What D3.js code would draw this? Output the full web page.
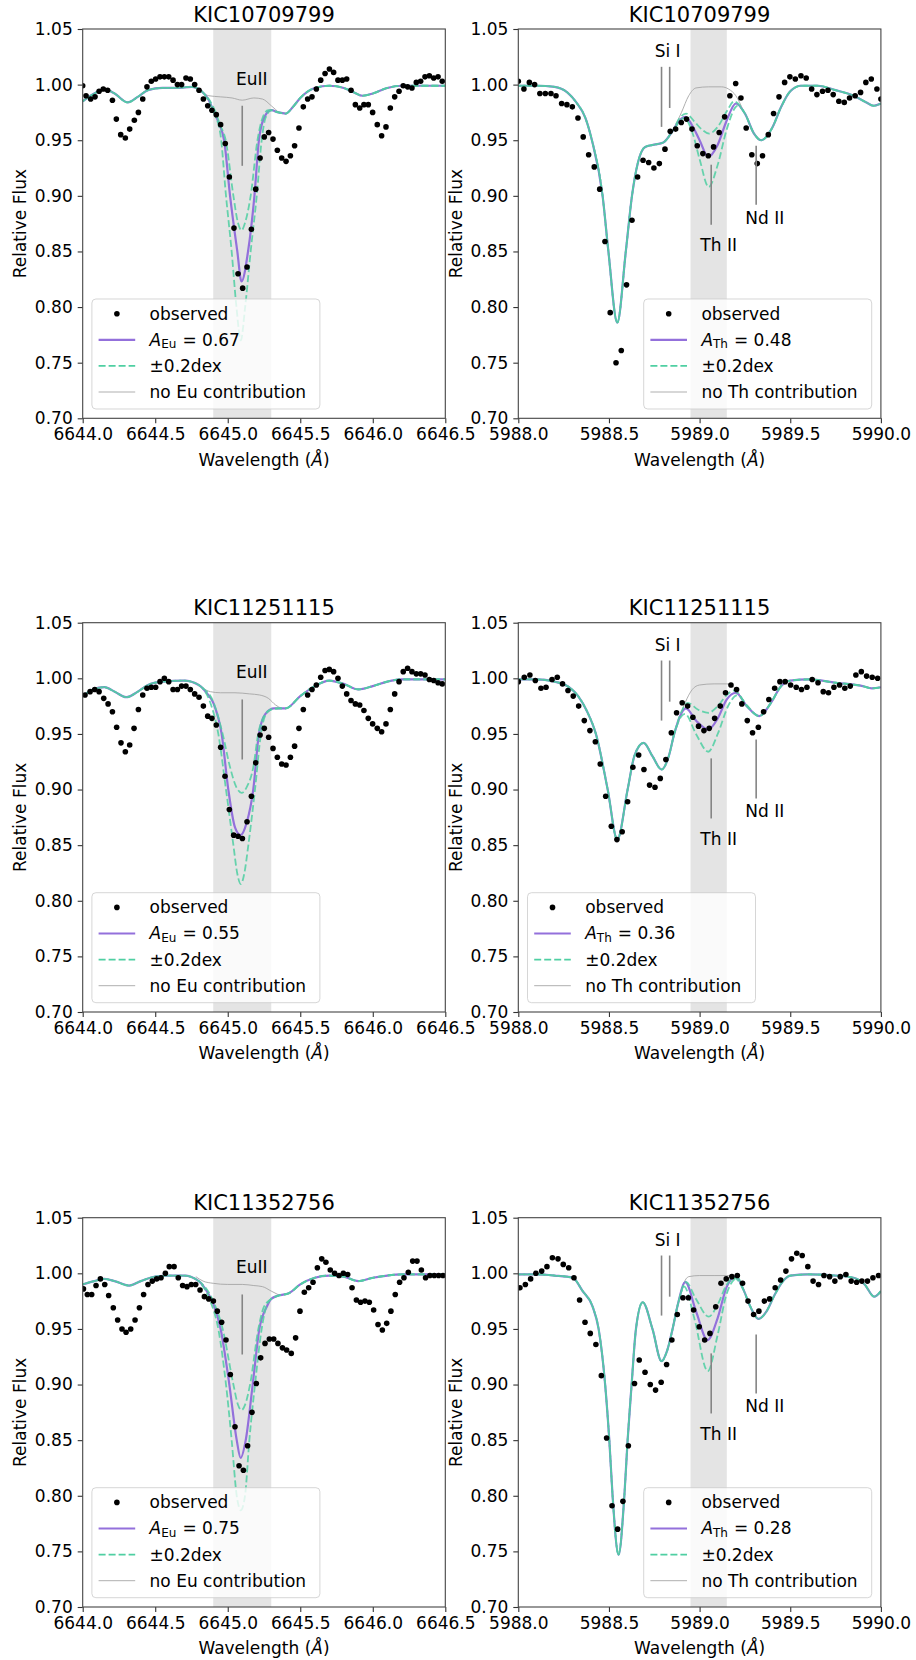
<!DOCTYPE html>
<html>
<head>
<meta charset="utf-8">
<script src="https://cdn.jsdelivr.net/npm/d3@7"></script>
<style>
  body { margin: 0; background: #fff; }
  text { font-family: "DejaVu Sans", sans-serif; fill: #000; }
</style>
</head>
<body>
<div id="chart-area"></div>
<script>
  // ---- data ----
  var starNames = ['KIC10709799', 'KIC11251115', 'KIC11352756'];
  var euAbund = [0.67, 0.55, 0.75];
  var thAbund = [0.48, 0.36, 0.28];
  var thLegendSide = ['right', 'left', 'right'];

  var euTicks = [6644.0, 6644.5, 6645.0, 6645.5, 6646.0, 6646.5];
  var thTicks = [5988.0, 5988.5, 5989.0, 5989.5, 5990.0];
  var fluxTicks = [0.70, 0.75, 0.80, 0.85, 0.90, 0.95, 1.00, 1.05];
  var euBand = [6644.9, 6645.3];
  var thBand = [5988.95, 5989.15];

  // marker lines [x, yLow, yHigh] and labels [x, y, text]
  var euMarks = [[6645.1, 0.927, 0.981]];
  var euLabels = [[6645.057, 1.0, 'EuII']];
  var thMarks = [[5988.79, 0.962, 1.016], [5988.835, 0.979, 1.016], [5989.064, 0.874, 0.928], [5989.312, 0.892, 0.945]];
  var thLabels = [[5988.752, 1.025, 'Si I'], [5989.004, 0.850, 'Th II'], [5989.252, 0.875, 'Nd II']];

  // ---- KIC10709799 ----
  var eu1Obs = [[6644.000,0.999],[6644.023,0.990],[6644.055,0.987],[6644.085,0.989],[6644.113,0.994],[6644.142,0.996],[6644.172,0.995],[6644.205,0.986],[6644.232,0.969],[6644.262,0.955],[6644.294,0.952],[6644.324,0.960],[6644.356,0.968],[6644.384,0.975],[6644.414,0.987],[6644.443,0.998],[6644.473,1.003],[6644.503,1.005],[6644.533,1.007],[6644.563,1.007],[6644.593,1.007],[6644.623,1.004],[6644.653,1.000],[6644.682,1.000],[6644.712,1.006],[6644.742,1.005],[6644.772,1.000],[6644.802,0.995],[6644.832,0.987],[6644.862,0.981],[6644.891,0.977],[6644.921,0.973],[6644.951,0.964],[6644.983,0.947],[6645.011,0.917],[6645.043,0.871],[6645.071,0.830],[6645.103,0.817],[6645.133,0.836],[6645.163,0.870],[6645.193,0.906],[6645.223,0.934],[6645.252,0.953],[6645.282,0.957],[6645.312,0.951],[6645.342,0.941],[6645.372,0.934],[6645.402,0.931],[6645.432,0.936],[6645.461,0.945],[6645.491,0.961],[6645.521,0.980],[6645.551,0.987],[6645.581,0.989],[6645.611,0.996],[6645.641,1.004],[6645.671,1.010],[6645.701,1.014],[6645.730,1.011],[6645.760,1.004],[6645.790,1.004],[6645.820,1.005],[6645.850,0.995],[6645.880,0.982],[6645.910,0.979],[6645.939,0.982],[6645.969,0.982],[6645.999,0.975],[6646.031,0.964],[6646.061,0.954],[6646.091,0.962],[6646.121,0.979],[6646.151,0.989],[6646.181,0.994],[6646.210,0.999],[6646.240,0.998],[6646.270,0.997],[6646.300,1.002],[6646.330,1.003],[6646.360,1.007],[6646.390,1.008],[6646.420,1.006],[6646.450,1.007],[6646.479,1.003]];
  var eu1Model = [[6644.00,0.985],[6644.08,0.992],[6644.15,0.996],[6644.22,0.992],[6644.31,0.984],[6644.38,0.989],[6644.45,0.995],[6644.55,0.997],[6644.65,0.997],[6644.75,0.998],[6644.82,0.994],[6644.87,0.986],[6644.90,0.977],[6644.94,0.965],[6644.975,0.950],[6645.016,0.900],[6645.066,0.850],[6645.095,0.823],[6645.14,0.850],[6645.184,0.900],[6645.215,0.950],[6645.25,0.970],[6645.30,0.977],[6645.35,0.975],[6645.40,0.974],[6645.45,0.980],[6645.50,0.988],[6645.60,0.997],[6645.70,0.999],[6645.80,0.997],[6645.87,0.993],[6645.93,0.990],[6646.00,0.992],[6646.10,0.997],[6646.20,0.999],[6646.50,0.999]];
  var eu1Hi = [[6644.82,0.994],[6644.90,0.980],[6644.95,0.963],[6644.986,0.950],[6645.039,0.900],[6645.07,0.876],[6645.095,0.869],[6645.12,0.876],[6645.158,0.900],[6645.205,0.950],[6645.24,0.970],[6645.28,0.977],[6645.35,0.975]];
  var eu1Lo = [[6644.82,0.994],[6644.90,0.976],[6644.95,0.955],[6644.988,0.900],[6645.027,0.850],[6645.06,0.800],[6645.09,0.770],[6645.12,0.800],[6645.158,0.850],[6645.20,0.900],[6645.234,0.950],[6645.26,0.970],[6645.30,0.977],[6645.35,0.975]];
  var eu1Bare = [[6644.78,0.997],[6644.82,0.993],[6644.87,0.990],[6644.95,0.989],[6645.03,0.988],[6645.10,0.986],[6645.18,0.988],[6645.24,0.987],[6645.30,0.981],[6645.36,0.974]];

  var th1Obs = [[5988.000,1.003],[5988.031,0.996],[5988.061,1.002],[5988.090,1.000],[5988.119,0.992],[5988.149,0.992],[5988.180,0.992],[5988.208,0.990],[5988.239,0.983],[5988.268,0.982],[5988.298,0.980],[5988.329,0.970],[5988.358,0.953],[5988.388,0.937],[5988.419,0.926],[5988.449,0.906],[5988.478,0.859],[5988.507,0.795],[5988.539,0.750],[5988.568,0.761],[5988.597,0.820],[5988.627,0.878],[5988.658,0.917],[5988.688,0.932],[5988.719,0.930],[5988.748,0.925],[5988.778,0.929],[5988.809,0.942],[5988.838,0.958],[5988.868,0.960],[5988.899,0.966],[5988.928,0.969],[5988.958,0.960],[5988.987,0.945],[5989.018,0.938],[5989.048,0.936],[5989.077,0.944],[5989.108,0.957],[5989.138,0.971],[5989.167,0.990],[5989.199,1.001],[5989.228,0.988],[5989.257,0.961],[5989.288,0.937],[5989.318,0.929],[5989.347,0.936],[5989.379,0.955],[5989.408,0.974],[5989.438,0.989],[5989.469,1.002],[5989.498,1.007],[5989.528,1.005],[5989.559,1.008],[5989.588,1.006],[5989.618,0.996],[5989.647,0.991],[5989.678,0.994],[5989.708,0.995],[5989.737,0.991],[5989.768,0.985],[5989.798,0.984],[5989.827,0.988],[5989.858,0.990],[5989.888,0.993],[5989.917,1.002],[5989.947,1.005],[5989.978,0.996],[5990.000,0.987]];
  var th1Model = [[5988.00,0.999],[5988.10,0.999],[5988.20,0.998],[5988.27,0.993],[5988.32,0.984],[5988.37,0.970],[5988.406,0.950],[5988.465,0.900],[5988.497,0.850],[5988.546,0.786],[5988.593,0.850],[5988.627,0.900],[5988.66,0.930],[5988.70,0.944],[5988.75,0.946],[5988.80,0.948],[5988.85,0.958],[5988.89,0.968],[5988.921,0.971],[5988.96,0.963],[5989.00,0.950],[5989.048,0.935],[5989.10,0.946],[5989.15,0.968],[5989.20,0.983],[5989.25,0.974],[5989.30,0.956],[5989.34,0.950],[5989.40,0.961],[5989.45,0.980],[5989.50,0.994],[5989.56,0.999],[5989.65,0.999],[5989.75,0.995],[5989.85,0.990],[5989.92,0.984],[5989.96,0.981],[5990.00,0.983]];
  var th1Hi = [[5988.85,0.958],[5988.89,0.970],[5988.925,0.974],[5988.97,0.967],[5989.01,0.960],[5989.053,0.956],[5989.10,0.962],[5989.15,0.976],[5989.19,0.985],[5989.25,0.974]];
  var th1Lo = [[5988.85,0.958],[5988.89,0.967],[5988.915,0.970],[5988.96,0.957],[5989.00,0.933],[5989.05,0.908],[5989.10,0.928],[5989.15,0.960],[5989.21,0.981],[5989.25,0.974]];
  var th1Bare = [[5988.86,0.961],[5988.90,0.975],[5988.94,0.990],[5988.98,0.997],[5989.05,0.998],[5989.12,0.998],[5989.16,0.996],[5989.20,0.990],[5989.24,0.977]];

  // ---- KIC11251115 ----
  var eu2Obs = [[6644.016,0.985],[6644.051,0.988],[6644.083,0.990],[6644.113,0.988],[6644.145,0.982],[6644.175,0.977],[6644.205,0.970],[6644.234,0.956],[6644.264,0.942],[6644.294,0.934],[6644.324,0.940],[6644.354,0.955],[6644.384,0.972],[6644.414,0.985],[6644.443,0.991],[6644.473,0.992],[6644.503,0.992],[6644.533,0.997],[6644.563,1.000],[6644.593,0.997],[6644.623,0.990],[6644.653,0.990],[6644.682,0.993],[6644.712,0.993],[6644.742,0.990],[6644.772,0.986],[6644.802,0.983],[6644.832,0.975],[6644.862,0.966],[6644.891,0.964],[6644.921,0.958],[6644.951,0.938],[6644.981,0.912],[6645.011,0.882],[6645.041,0.859],[6645.071,0.858],[6645.101,0.856],[6645.133,0.871],[6645.163,0.894],[6645.193,0.924],[6645.223,0.949],[6645.252,0.955],[6645.282,0.947],[6645.312,0.937],[6645.342,0.929],[6645.372,0.923],[6645.402,0.922],[6645.432,0.929],[6645.461,0.939],[6645.491,0.955],[6645.521,0.972],[6645.551,0.985],[6645.581,0.990],[6645.611,0.994],[6645.641,1.001],[6645.671,1.007],[6645.700,1.008],[6645.730,1.006],[6645.760,1.000],[6645.790,0.993],[6645.820,0.986],[6645.850,0.980],[6645.880,0.977],[6645.910,0.976],[6645.939,0.971],[6645.969,0.964],[6645.999,0.959],[6646.031,0.955],[6646.061,0.952],[6646.091,0.959],[6646.121,0.972],[6646.151,0.986],[6646.181,0.997],[6646.210,1.006],[6646.240,1.009],[6646.270,1.006],[6646.300,1.004],[6646.330,1.004],[6646.360,1.003],[6646.390,0.999],[6646.420,0.998],[6646.450,0.996],[6646.479,0.995]];
  var eu2Model = [[6644.00,0.984],[6644.07,0.990],[6644.15,0.992],[6644.22,0.988],[6644.30,0.983],[6644.38,0.988],[6644.45,0.994],[6644.55,0.997],[6644.70,0.998],[6644.80,0.994],[6644.86,0.986],[6644.90,0.978],[6644.958,0.950],[6645.004,0.900],[6645.05,0.866],[6645.089,0.859],[6645.13,0.870],[6645.176,0.900],[6645.215,0.950],[6645.26,0.968],[6645.32,0.973],[6645.40,0.973],[6645.50,0.984],[6645.60,0.993],[6645.70,0.998],[6645.80,0.995],[6645.90,0.990],[6646.00,0.993],[6646.10,0.997],[6646.20,0.999],[6646.50,0.999]];
  var eu2Hi = [[6644.82,0.992],[6644.90,0.979],[6644.965,0.950],[6645.016,0.920],[6645.06,0.902],[6645.095,0.897],[6645.13,0.902],[6645.176,0.920],[6645.21,0.950],[6645.25,0.966],[6645.30,0.972],[6645.35,0.973]];
  var eu2Lo = [[6644.82,0.992],[6644.88,0.978],[6644.935,0.950],[6644.988,0.900],[6645.039,0.850],[6645.065,0.825],[6645.09,0.815],[6645.115,0.825],[6645.142,0.850],[6645.188,0.900],[6645.229,0.950],[6645.26,0.967],[6645.30,0.972],[6645.35,0.973]];
  var eu2Bare = [[6644.78,0.996],[6644.83,0.991],[6644.88,0.988],[6644.95,0.987],[6645.05,0.987],[6645.15,0.986],[6645.22,0.985],[6645.28,0.982],[6645.33,0.976],[6645.37,0.973]];

  var th2Obs = [[5988.000,0.997],[5988.033,1.001],[5988.064,1.003],[5988.094,0.998],[5988.125,0.991],[5988.153,0.992],[5988.186,0.999],[5988.215,1.001],[5988.244,0.995],[5988.274,0.989],[5988.303,0.984],[5988.333,0.975],[5988.364,0.962],[5988.395,0.953],[5988.425,0.943],[5988.452,0.923],[5988.482,0.894],[5988.513,0.867],[5988.544,0.855],[5988.573,0.862],[5988.603,0.889],[5988.632,0.920],[5988.664,0.931],[5988.693,0.918],[5988.724,0.904],[5988.754,0.902],[5988.783,0.910],[5988.814,0.927],[5988.844,0.951],[5988.873,0.969],[5988.904,0.978],[5988.934,0.975],[5988.963,0.965],[5988.994,0.957],[5989.024,0.953],[5989.053,0.955],[5989.083,0.964],[5989.114,0.975],[5989.143,0.987],[5989.173,0.994],[5989.204,0.990],[5989.233,0.977],[5989.263,0.962],[5989.292,0.951],[5989.324,0.956],[5989.353,0.970],[5989.382,0.981],[5989.414,0.991],[5989.443,0.997],[5989.472,0.997],[5989.502,0.994],[5989.533,0.992],[5989.562,0.990],[5989.592,0.992],[5989.621,0.999],[5989.653,0.996],[5989.682,0.988],[5989.711,0.987],[5989.741,0.992],[5989.772,0.994],[5989.801,0.991],[5989.831,0.993],[5989.862,1.003],[5989.892,1.006],[5989.921,1.002],[5989.952,1.001],[5989.982,1.000]];
  var th2Model = [[5988.00,0.999],[5988.10,0.999],[5988.20,0.997],[5988.28,0.992],[5988.33,0.984],[5988.38,0.970],[5988.428,0.950],[5988.493,0.900],[5988.546,0.855],[5988.603,0.900],[5988.64,0.930],[5988.691,0.942],[5988.74,0.930],[5988.79,0.918],[5988.83,0.930],[5988.86,0.950],[5988.925,0.973],[5988.98,0.962],[5989.048,0.954],[5989.10,0.964],[5989.15,0.981],[5989.20,0.987],[5989.26,0.975],[5989.329,0.966],[5989.39,0.977],[5989.45,0.993],[5989.50,0.998],[5989.60,0.999],[5989.75,0.996],[5989.90,0.993],[5989.95,0.991],[5990.00,0.992]];
  var th2Hi = [[5988.86,0.950],[5988.90,0.970],[5988.934,0.978],[5988.99,0.972],[5989.048,0.969],[5989.10,0.975],[5989.15,0.985],[5989.19,0.989],[5989.26,0.976]];
  var th2Lo = [[5988.86,0.950],[5988.90,0.966],[5988.92,0.968],[5988.98,0.950],[5989.048,0.934],[5989.10,0.950],[5989.16,0.976],[5989.21,0.985],[5989.26,0.975]];
  var th2Bare = [[5988.88,0.960],[5988.92,0.978],[5988.96,0.990],[5989.00,0.994],[5989.08,0.995],[5989.15,0.995],[5989.19,0.992],[5989.23,0.983],[5989.26,0.975]];

  // ---- KIC11352756 ----
  var eu3Obs = [[6644.005,0.986],[6644.032,0.981],[6644.062,0.981],[6644.092,0.989],[6644.122,0.995],[6644.152,0.990],[6644.179,0.980],[6644.211,0.969],[6644.241,0.958],[6644.271,0.950],[6644.299,0.947],[6644.331,0.950],[6644.361,0.958],[6644.391,0.969],[6644.420,0.981],[6644.450,0.990],[6644.480,0.993],[6644.510,0.995],[6644.540,0.996],[6644.570,1.000],[6644.597,1.006],[6644.630,1.006],[6644.659,0.996],[6644.689,0.989],[6644.719,0.988],[6644.749,0.990],[6644.779,0.990],[6644.809,0.985],[6644.839,0.979],[6644.869,0.977],[6644.901,0.975],[6644.928,0.966],[6644.958,0.956],[6644.988,0.940],[6645.018,0.909],[6645.050,0.862],[6645.078,0.827],[6645.108,0.823],[6645.137,0.845],[6645.167,0.875],[6645.197,0.901],[6645.227,0.924],[6645.257,0.937],[6645.287,0.941],[6645.317,0.941],[6645.346,0.937],[6645.377,0.933],[6645.406,0.931],[6645.438,0.928],[6645.468,0.942],[6645.498,0.966],[6645.528,0.983],[6645.558,0.987],[6645.588,0.992],[6645.618,1.005],[6645.648,1.013],[6645.677,1.010],[6645.707,1.003],[6645.737,1.000],[6645.767,0.998],[6645.797,1.000],[6645.827,0.999],[6645.857,0.987],[6645.887,0.976],[6645.916,0.974],[6645.946,0.975],[6645.976,0.974],[6646.006,0.967],[6646.036,0.954],[6646.066,0.949],[6646.096,0.955],[6646.125,0.966],[6646.155,0.981],[6646.185,0.992],[6646.215,0.996],[6646.245,1.001],[6646.275,1.011],[6646.305,1.011],[6646.335,1.003],[6646.364,0.996],[6646.394,0.998],[6646.424,0.998],[6646.454,0.998],[6646.484,0.998]];
  var eu3Model = [[6644.00,0.990],[6644.08,0.993],[6644.15,0.995],[6644.22,0.993],[6644.32,0.989],[6644.40,0.993],[6644.50,0.997],[6644.60,0.998],[6644.70,0.998],[6644.80,0.993],[6644.86,0.983],[6644.90,0.973],[6644.951,0.950],[6645.011,0.900],[6645.062,0.850],[6645.089,0.834],[6645.124,0.850],[6645.172,0.900],[6645.218,0.950],[6645.269,0.970],[6645.30,0.977],[6645.35,0.980],[6645.42,0.982],[6645.50,0.990],[6645.60,0.996],[6645.70,0.998],[6645.80,0.997],[6645.90,0.993],[6646.00,0.996],[6646.10,0.998],[6646.20,0.999],[6646.50,0.999]];
  var eu3Hi = [[6644.82,0.991],[6644.90,0.975],[6644.965,0.950],[6645.039,0.900],[6645.07,0.882],[6645.095,0.877],[6645.12,0.882],[6645.154,0.900],[6645.211,0.950],[6645.25,0.970],[6645.30,0.977],[6645.35,0.980]];
  var eu3Lo = [[6644.82,0.990],[6644.88,0.975],[6644.935,0.950],[6644.988,0.900],[6645.027,0.850],[6645.062,0.800],[6645.09,0.787],[6645.119,0.800],[6645.149,0.850],[6645.188,0.900],[6645.234,0.950],[6645.27,0.972],[6645.30,0.977],[6645.35,0.980]];
  var eu3Bare = [[6644.78,0.997],[6644.83,0.993],[6644.90,0.991],[6645.00,0.990],[6645.10,0.990],[6645.18,0.989],[6645.24,0.988],[6645.30,0.984],[6645.36,0.980]];

  var th3Obs = [[5988.009,0.987],[5988.039,0.990],[5988.068,0.995],[5988.097,1.000],[5988.129,1.002],[5988.158,1.006],[5988.188,1.014],[5988.219,1.013],[5988.248,1.008],[5988.278,1.005],[5988.307,0.996],[5988.338,0.976],[5988.368,0.956],[5988.397,0.946],[5988.428,0.936],[5988.458,0.908],[5988.487,0.852],[5988.517,0.791],[5988.548,0.770],[5988.577,0.795],[5988.607,0.845],[5988.641,0.901],[5988.667,0.922],[5988.699,0.911],[5988.728,0.900],[5988.757,0.895],[5988.788,0.902],[5988.818,0.918],[5988.847,0.940],[5988.877,0.963],[5988.908,0.978],[5988.938,0.978],[5988.967,0.967],[5988.998,0.952],[5989.028,0.940],[5989.057,0.946],[5989.089,0.970],[5989.118,0.991],[5989.147,0.995],[5989.178,0.997],[5989.208,0.998],[5989.237,0.991],[5989.267,0.975],[5989.298,0.963],[5989.327,0.966],[5989.357,0.975],[5989.386,0.977],[5989.417,0.987],[5989.447,0.994],[5989.476,1.002],[5989.507,1.013],[5989.536,1.018],[5989.566,1.016],[5989.597,1.006],[5989.626,0.993],[5989.656,0.990],[5989.686,0.998],[5989.717,0.997],[5989.746,0.993],[5989.776,0.997],[5989.807,0.999],[5989.836,0.993],[5989.866,0.992],[5989.895,0.993],[5989.926,0.993],[5989.956,0.996],[5989.987,0.998]];
  var th3Model = [[5988.00,0.999],[5988.10,0.999],[5988.20,0.998],[5988.30,0.996],[5988.355,0.984],[5988.41,0.970],[5988.443,0.950],[5988.479,0.900],[5988.502,0.850],[5988.52,0.800],[5988.553,0.747],[5988.585,0.800],[5988.603,0.850],[5988.625,0.900],[5988.649,0.950],[5988.686,0.974],[5988.74,0.950],[5988.79,0.921],[5988.82,0.930],[5988.851,0.950],[5988.88,0.972],[5988.921,0.992],[5988.98,0.966],[5989.044,0.940],[5989.10,0.960],[5989.15,0.988],[5989.20,0.997],[5989.24,0.986],[5989.28,0.970],[5989.325,0.959],[5989.37,0.966],[5989.412,0.980],[5989.46,0.993],[5989.50,0.998],[5989.60,0.999],[5989.75,0.998],[5989.85,0.996],[5989.91,0.990],[5989.963,0.979],[5990.00,0.984]];
  var th3Hi = [[5988.88,0.972],[5988.925,0.992],[5988.98,0.977],[5989.05,0.961],[5989.10,0.972],[5989.15,0.990],[5989.19,0.996],[5989.24,0.986]];
  var th3Lo = [[5988.88,0.972],[5988.915,0.988],[5988.97,0.960],[5989.045,0.912],[5989.10,0.945],[5989.15,0.982],[5989.21,0.996],[5989.24,0.986]];
  var th3Bare = [[5988.88,0.972],[5988.91,0.990],[5988.94,0.997],[5989.00,0.998],[5989.08,0.998],[5989.15,0.998],[5989.20,0.997],[5989.24,0.986]];

  // ---- layout ----
  var W = 916, H = 1660;
  var colLeft = [82.7, 518.3];
  var rowTop = [29, 622.7, 1217.7];
  var pw = 362.6, ph = 389.3;
  var purple = '#9370db', aqua = '#4fcfa2';

  var panels = [
    {row: 0, col: 0, el: 'Eu', ab: euAbund[0], obs: eu1Obs, model: eu1Model, hi: eu1Hi, lo: eu1Lo, bare: eu1Bare, side: 'left'},
    {row: 0, col: 1, el: 'Th', ab: thAbund[0], obs: th1Obs, model: th1Model, hi: th1Hi, lo: th1Lo, bare: th1Bare, side: thLegendSide[0]},
    {row: 1, col: 0, el: 'Eu', ab: euAbund[1], obs: eu2Obs, model: eu2Model, hi: eu2Hi, lo: eu2Lo, bare: eu2Bare, side: 'left'},
    {row: 1, col: 1, el: 'Th', ab: thAbund[1], obs: th2Obs, model: th2Model, hi: th2Hi, lo: th2Lo, bare: th2Bare, side: thLegendSide[1]},
    {row: 2, col: 0, el: 'Eu', ab: euAbund[2], obs: eu3Obs, model: eu3Model, hi: eu3Hi, lo: eu3Lo, bare: eu3Bare, side: 'left'},
    {row: 2, col: 1, el: 'Th', ab: thAbund[2], obs: th3Obs, model: th3Model, hi: th3Hi, lo: th3Lo, bare: th3Bare, side: thLegendSide[2]}
  ];

  var svg = d3.select('#chart-area').append('svg')
      .attr('width', W).attr('height', H)
      .style('display', 'block');

  // the +-0.2 dex curves follow the model outside the line window
  function splice(model, win) {
    var a = win[0][0], b = win[win.length - 1][0];
    return model.filter(function(d) { return d[0] < a; })
      .concat(win, model.filter(function(d) { return d[0] > b; }));
  }

  function drawPanel(p, idx) {
    var x0 = colLeft[p.col], y0 = rowTop[p.row];
    var isEu = p.el === 'Eu';
    var ticks = isEu ? euTicks : thTicks;
    var band = isEu ? euBand : thBand;
    var x = d3.scaleLinear().domain([ticks[0], ticks[ticks.length - 1]]).range([x0, x0 + pw]);
    var y = d3.scaleLinear().domain([0.70, 1.05]).range([y0 + ph, y0]);

    var g = svg.append('g');
    g.append('clipPath').attr('id', 'clip' + idx)
      .append('rect').attr('x', x0).attr('y', y0).attr('width', pw).attr('height', ph);
    var plot = g.append('g').attr('clip-path', 'url(#clip' + idx + ')');

    // shaded line window
    plot.append('rect')
      .attr('x', x(band[0])).attr('y', y0)
      .attr('width', x(band[1]) - x(band[0])).attr('height', ph)
      .attr('fill', '#e4e4e4');

    var line = d3.line()
      .x(function(d) { return x(d[0]); })
      .y(function(d) { return y(d[1]); })
      .curve(d3.curveMonotoneX);

    plot.append('path').attr('d', line(p.bare))
      .attr('fill', 'none').attr('stroke', '#a6a6a6').attr('stroke-width', 0.9);
    plot.append('path').attr('d', line(p.model))
      .attr('fill', 'none').attr('stroke', purple).attr('stroke-width', 2.2);
    plot.append('path').attr('d', line(splice(p.model, p.hi)))
      .attr('fill', 'none').attr('stroke', aqua).attr('stroke-width', 1.8)
      .attr('stroke-opacity', 0.85).attr('stroke-dasharray', '7,3');
    plot.append('path').attr('d', line(splice(p.model, p.lo)))
      .attr('fill', 'none').attr('stroke', aqua).attr('stroke-width', 1.8)
      .attr('stroke-opacity', 0.85).attr('stroke-dasharray', '7,3').attr('stroke-dashoffset', 5);

    plot.selectAll('circle.obs').data(p.obs).enter().append('circle')
      .attr('class', 'obs')
      .attr('cx', function(d) { return x(d[0]); })
      .attr('cy', function(d) { return y(d[1]); })
      .attr('r', 2.8).attr('fill', '#000');

    // line identifications
    var marks = isEu ? euMarks : thMarks;
    var labels = isEu ? euLabels : thLabels;
    marks.forEach(function(m) {
      g.append('line')
        .attr('x1', x(m[0])).attr('x2', x(m[0]))
        .attr('y1', y(m[1])).attr('y2', y(m[2]))
        .attr('stroke', '#858585').attr('stroke-width', 1.6);
    });
    labels.forEach(function(l) {
      g.append('text').attr('x', x(l[0])).attr('y', y(l[1]))
        .attr('font-size', '17px').text(l[2]);
    });

    // axes
    var xAxisCall = d3.axisBottom(x).tickValues(ticks).tickSize(5).tickPadding(5)
      .tickFormat(d3.format('.1f'));
    var yAxisCall = d3.axisLeft(y).tickValues(fluxTicks).tickSize(5).tickPadding(5)
      .tickFormat(d3.format('.2f'));
    var xa = g.append('g').attr('transform', 'translate(0,' + (y0 + ph) + ')').call(xAxisCall);
    var ya = g.append('g').attr('transform', 'translate(' + x0 + ',0)').call(yAxisCall);
    [xa, ya].forEach(function(a) {
      a.attr('font-family', '"DejaVu Sans", sans-serif').attr('font-size', 17);
      a.select('.domain').remove();
      a.selectAll('line').attr('stroke', '#333').attr('stroke-width', 1.1);
      a.selectAll('text').attr('fill', '#000');
    });
    g.append('rect').attr('x', x0).attr('y', y0).attr('width', pw).attr('height', ph)
      .attr('fill', 'none').attr('stroke', '#444').attr('stroke-width', 1.1);

    g.append('text').attr('x', x0 + pw / 2).attr('y', y0 - 7.5)
      .attr('text-anchor', 'middle').attr('font-size', '21px').text(starNames[p.row]);
    var xl = g.append('text').attr('x', x0 + pw / 2).attr('y', y0 + ph + 47.4)
      .attr('text-anchor', 'middle').attr('font-size', '17px');
    xl.append('tspan').text('Wavelength (');
    xl.append('tspan').attr('font-style', 'italic').text('Å');
    xl.append('tspan').text(')');
    g.append('text')
      .attr('transform', 'translate(' + (x0 - 56.3) + ',' + (y0 + ph / 2) + ') rotate(-90)')
      .attr('text-anchor', 'middle').attr('font-size', '17px').text('Relative Flux');

    // legend
    var lw = 228, lh = 110;
    var bx = p.side === 'left' ? x0 + 9.2 : x0 + pw - 9.2 - lw;
    var by = y0 + ph - 9.3 - lh;
    var lg = g.append('g').attr('transform', 'translate(' + bx + ',' + by + ')');
    lg.append('rect').attr('width', lw).attr('height', lh).attr('rx', 4)
      .attr('fill', '#fff').attr('fill-opacity', 0.8)
      .attr('stroke', '#cccccc').attr('stroke-opacity', 0.8);
    var rowsY = [14.7, 40.8, 66.9, 93.0];
    lg.append('circle').attr('cx', 25).attr('cy', rowsY[0]).attr('r', 2.8).attr('fill', '#000');
    lg.append('line').attr('x1', 6.7).attr('x2', 43.3).attr('y1', rowsY[1]).attr('y2', rowsY[1])
      .attr('stroke', purple).attr('stroke-width', 2.2);
    lg.append('line').attr('x1', 6.7).attr('x2', 43.3).attr('y1', rowsY[2]).attr('y2', rowsY[2])
      .attr('stroke', aqua).attr('stroke-width', 1.8).attr('stroke-dasharray', '7,3');
    lg.append('line').attr('x1', 6.7).attr('x2', 43.3).attr('y1', rowsY[3]).attr('y2', rowsY[3])
      .attr('stroke', '#a6a6a6').attr('stroke-width', 0.9);

    lg.append('text').attr('x', 57.7).attr('y', rowsY[0] + 6).attr('font-size', '17px').text('observed');
    var ab = lg.append('text').attr('x', 57.7).attr('y', rowsY[1] + 6).attr('font-size', '17px');
    ab.append('tspan').attr('font-style', 'italic').text('A');
    ab.append('tspan').attr('font-size', '12px').attr('dy', 2.5).text(p.el);
    ab.append('tspan').attr('dy', -2.5).attr('dx', 6).text('= ' + p.ab.toFixed(2));
    lg.append('text').attr('x', 57.7).attr('y', rowsY[2] + 6).attr('font-size', '17px').text('±0.2dex');
    lg.append('text').attr('x', 57.7).attr('y', rowsY[3] + 6).attr('font-size', '17px')
      .text('no ' + p.el + ' contribution');
  }

  panels.forEach(drawPanel);
</script>
</body>
</html>
